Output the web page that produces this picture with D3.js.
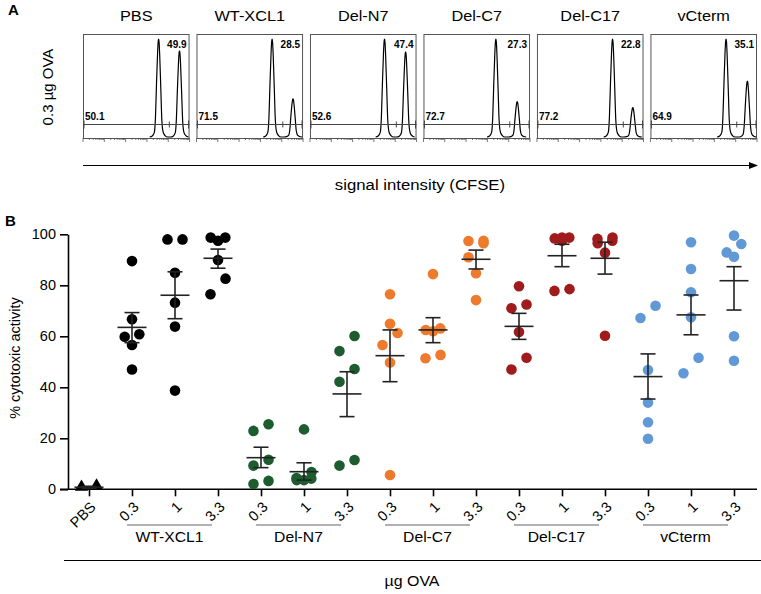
<!DOCTYPE html>
<html><head><meta charset="utf-8">
<script src="https://cdn.jsdelivr.net/npm/d3@7"></script>
<style>body{margin:0;background:#fff;} svg{display:block;font-family:"Liberation Sans",Arial,sans-serif;}</style>
</head><body><svg id="c" width="761" height="594"></svg>
<script>
// ---------- Panel A data ----------
const histPanels = ["PBS","WT-XCL1","Del-N7","Del-C7","Del-C17","vCterm"];
const gateLeftPct = ["50.1","71.5","52.6","72.7","77.2","64.9"];
const gateRightPct = ["49.9","28.5","47.4","27.3","22.8","35.1"];
const peak1Pos = [3.55,3.55,3.5,3.4,3.55,3.55];      // log10 CFSE
const peak2Pos = [4.53,4.53,4.49,4.4,4.5,4.55];
const peak1Height = [1,1,1,1,1,1];
const peak2Height = [0.88,0.39,0.87,0.36,0.30,0.57];
const peakProfile = [[-0.42,0],[-0.3,0.01],[-0.2,0.05],[-0.15,0.2],[-0.1,0.55],[-0.05,0.86],[-0.02,0.98],[0,1],[0.02,0.97],[0.05,0.83],[0.1,0.5],[0.15,0.17],[0.21,0.05],[0.3,0.015],[0.42,0]];
const gateSplit = 4.05;

// ---------- Panel B data ----------
const groups = ["WT-XCL1","Del-N7","Del-C7","Del-C17","vCterm"];
const doses = ["0.3","1","3.3"];
const categories = ["PBS"].concat(...groups.map(g => doses.map(d => g + " " + d)));
const tickLabels = ["PBS"].concat(...groups.map(() => doses));
const pbsValues = [0.5, 1.0];
const wtValues = [[89.5,66.7,59.8,60.8,56.6,47.0],[98.0,98.0,84.9,73.2,63.8,38.7],[98.7,98.7,97.5,89.9,82.6,76.5]];
const delN7Values = [[22.9,25.5,11.6,9.3,3.3,2.1],[23.5,3.6,3.6,4.2,4.4,6.8],[60.1,54.2,47.2,42.2,9.3,11.5]];
const delC7Values = [[76.5,64.9,61.3,56.6,49.7,5.6],[84.4,62.5,62.0,63.1,51.4,52.7],[97.4,97.5,96.5,91.0,84.7,74.2]];
const delC17Values = [[79.6,71.0,72.5,61.7,51.6,47.0],[98.7,98.4,98.7,97.5,77.8,78.5],[98.2,98.7,96.5,92.8,97.5,60.2]];
const vCtermValues = [[72.0,67.2,46.8,34.0,26.3,19.8],[96.9,86.4,77.3,67.5,51.6,45.5],[99.5,96.2,92.9,91.2,60.0,50.4]];
const meanValues = [0.8,63.5,76.1,90.6,12.4,6.9,37.4,52.4,62.5,90.2,63.9,91.6,90.6,44.2,68.4,81.8];
const errUpper   = [1.2,69.3,85.3,94.2,16.5,10.4,46.1,62.5,67.3,93.8,69.0,96.1,96.9,53.1,76.2,87.3];
const errLower   = [0.4,57.5,66.9,86.7,8.5,3.6,28.5,42.2,57.5,86.4,58.8,87.3,84.4,35.4,60.6,70.3];
const groupColors = ["#000000","#1c5c2e","#ee7a2c","#a01b1b","#6199d6"];
const yTicks = [0,20,40,60,80,100];

const svg = d3.select("#c");
// horizontally widen text slightly (reference typeface is wider)
function widen(sel, k){ sel.each(function(){ const L=this.getComputedTextLength(); d3.select(this).attr("textLength",L*k).attr("lengthAdjust","spacingAndGlyphs"); }); return sel; }

// ================= Panel A =================
svg.append("text").attr("x",8).attr("y",15).attr("font-size",15).attr("font-weight","bold").text("A");
svg.append("text").attr("transform","translate(53,87) rotate(-90)").attr("text-anchor","middle")
  .attr("font-size",15).text("0.3 µg OVA");

const panelX = d3.scaleBand().domain(histPanels).range([83,757]).paddingInner(0.061).paddingOuter(0);
const boxTop = 34, boxBottom = 138;
const hy = d3.scaleLinear().domain([0,1]).range([137,39]);

histPanels.forEach((p,i) => {
  const x0 = panelX(p), w = panelX.bandwidth();
  const hx = d3.scaleLinear().domain([0,5]).range([x0, x0+w]);
  const g = svg.append("g");
  widen(g.append("text").attr("x",x0+w/2).attr("y",21).attr("text-anchor","middle").attr("font-size",15.5).text(p), 1.05);
  g.append("rect").attr("x",x0+0.5).attr("y",boxTop+0.5).attr("width",w-1).attr("height",boxBottom-boxTop)
    .attr("fill","none").attr("stroke","#555").attr("stroke-width",1);
  const tks = [];
  for (let d=0; d<5; d++) for (let k=1; k<10; k++) tks.push({v:d+Math.log10(k), major:k===1});
  tks.push({v:5, major:true});
  g.selectAll("line.t").data(tks).join("line")
    .attr("x1",d=>hx(d.v)).attr("x2",d=>hx(d.v)).attr("y1",boxBottom).attr("y2",d=>boxBottom+(d.major?4:2))
    .attr("stroke","#555").attr("stroke-width",0.8);
  const pts = peakProfile.map(([dx,h]) => [peak1Pos[i]+dx, h*peak1Height[i]])
    .concat(peakProfile.map(([dx,h]) => [peak2Pos[i]+dx, h*peak2Height[i]]));
  g.append("path").attr("d", d3.line().x(d=>hx(d[0])).y(d=>hy(d[1])).curve(d3.curveMonotoneX)(pts))
    .attr("fill","none").attr("stroke","#000").attr("stroke-width",1.2);
  const gy = 124.5;
  g.append("line").attr("x1",x0).attr("x2",x0+w).attr("y1",gy).attr("y2",gy).attr("stroke","#444").attr("stroke-width",1);
  [[hx(0)+1,4],[hx(gateSplit),3],[hx(5)-1,4]].forEach(([xx,hh]) =>
    g.append("line").attr("x1",xx).attr("x2",xx).attr("y1",gy-hh).attr("y2",gy+hh).attr("stroke","#444").attr("stroke-width",1));
  g.append("text").attr("x",x0+2).attr("y",120).attr("font-size",10).attr("font-weight","bold").text(gateLeftPct[i]);
  g.append("text").attr("x",x0+w-3).attr("y",48).attr("text-anchor","end").attr("font-size",10).attr("font-weight","bold").text(gateRightPct[i]);
});
svg.append("line").attr("x1",83).attr("x2",750).attr("y1",165.5).attr("y2",165.5).attr("stroke","#000").attr("stroke-width",1);
svg.append("path").attr("d","M749,162 L758,165.5 L749,169 Z").attr("fill","#000");
widen(svg.append("text").attr("x",420).attr("y",190).attr("text-anchor","middle").attr("font-size",15.5).text("signal intensity (CFSE)"), 1.08);

// ================= Panel B =================
svg.append("text").attr("x",5).attr("y",226).attr("font-size",15).attr("font-weight","bold").text("B");
const y = d3.scaleLinear().domain([0,100]).range([489.3,234.3]);
const x = d3.scalePoint().domain(categories).range([89,734]);

const ya = svg.append("g").attr("transform","translate(68,0)")
  .call(d3.axisLeft(y).tickValues(yTicks).tickSize(8).tickSizeOuter(0));
ya.select(".domain").attr("stroke-width",1.6);
ya.selectAll(".tick line").attr("stroke-width",1.6);
ya.selectAll("text").attr("font-size",14.5).attr("font-family","Liberation Sans, Arial, sans-serif").attr("fill","#000").attr("dx","-1");
svg.append("text").attr("transform","translate(20,358) rotate(-90)").attr("text-anchor","middle")
  .attr("font-size",14.5).text("% cytotoxic activity");

svg.append("line").attr("x1",60).attr("x2",757).attr("y1",y(0)).attr("y2",y(0)).attr("stroke","#000").attr("stroke-width",1.6);
const xa = svg.append("g").attr("transform",`translate(0,${y(0)})`)
  .call(d3.axisBottom(x).tickSize(7).tickSizeOuter(0).tickFormat(""));
xa.select(".domain").remove();
xa.selectAll(".tick line").attr("stroke-width",1.6);
categories.forEach((c,i) => {
  svg.append("text").attr("transform",`translate(${x(c)+4},${y(0)+15}) rotate(-45)`)
    .attr("text-anchor","end").attr("font-size",14.5).attr("dy","0.35em").text(tickLabels[i]);
});
groups.forEach((gname,gi) => {
  const a = x(gname+" "+doses[0]) - 5, b = x(gname+" "+doses[2]) - 6;
  svg.append("line").attr("x1",a).attr("x2",b).attr("y1",525).attr("y2",525).attr("stroke","#999").attr("stroke-width",1.5);
  widen(svg.append("text").attr("x",(a+b)/2).attr("y",542).attr("text-anchor","middle").attr("font-size",14.5).text(gname), 1.08);
});
svg.append("line").attr("x1",64).attr("x2",761).attr("y1",560.5).attr("y2",560.5).attr("stroke","#000").attr("stroke-width",1);
widen(svg.append("text").attr("x",412).attr("y",586).attr("text-anchor","middle").attr("font-size",14.5).text("µg OVA"), 1.1);

function layout(vals){
  const idx = vals.map((v,i)=>({v,i})).sort((a,b)=>a.v-b.v);
  const res = new Array(vals.length);
  const d = 7.3, thr = 16;
  let row = [];
  const flush = () => {
    const n = row.length;
    const offs = n===1 ? [0] : n===2 ? [-d*1.03, d*1.03] : [0,-d,d];
    row.forEach((p,k)=>res[p.i] = {v:p.v, dx:offs[k]});
    row = [];
  };
  idx.forEach(p => {
    if (row.length && ((y(row[0].v)-y(p.v)) >= thr || row.length>=3)) flush();
    row.push(p);
  });
  if (row.length) flush();
  return res;
}

const pbsPts = layout(pbsValues);
svg.append("g").selectAll("path").data(pbsPts).join("path")
  .attr("d", d3.symbol(d3.symbolTriangle, 75)())
  .attr("transform", d => `translate(${x("PBS")+d.dx},${y(d.v)-1})`).attr("fill","#000");

const allGroupValues = [wtValues, delN7Values, delC7Values, delC17Values, vCtermValues];
allGroupValues.forEach((gv,gi) => {
  gv.forEach((vals,di) => {
    const cx = x(groups[gi]+" "+doses[di]);
    svg.append("g").selectAll("circle").data(layout(vals)).join("circle")
      .attr("cx", d => cx + d.dx).attr("cy", d => y(d.v)).attr("r",5.3).attr("fill",groupColors[gi]);
  });
});

const bars = svg.append("g").attr("stroke","#222").attr("stroke-width",1.6);
categories.forEach((c,i) => {
  const cx = x(c);
  bars.append("line").attr("x1",cx-14.5).attr("x2",cx+14.5).attr("y1",y(meanValues[i])).attr("y2",y(meanValues[i]));
  bars.append("line").attr("x1",cx).attr("x2",cx).attr("y1",y(errUpper[i])).attr("y2",y(errLower[i]));
  [errUpper[i], errLower[i]].forEach(v =>
    bars.append("line").attr("x1",cx-7.5).attr("x2",cx+7.5).attr("y1",y(v)).attr("y2",y(v)));
});
</script></body></html>
